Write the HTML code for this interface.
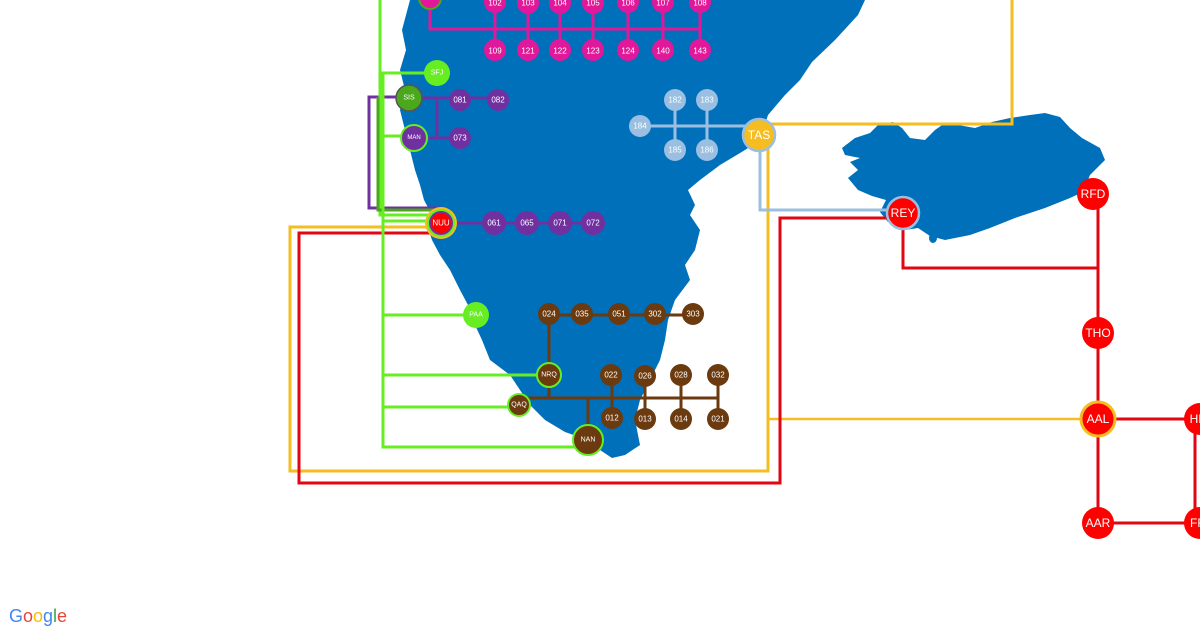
<!DOCTYPE html>
<html><head><meta charset="utf-8"><style>
body{margin:0;background:#fff;width:1200px;height:630px;overflow:hidden;font-family:"Liberation Sans",sans-serif}
svg text{font-family:"Liberation Sans",sans-serif;fill:#fff;text-anchor:middle;dominant-baseline:central}
</style></head><body>
<svg width="1200" height="630" viewBox="0 0 1200 630">
<!-- Greenland -->
<path fill="#0070bb" d="M410,0 L865,0 L858,15 L835,40 L812,62 L800,80 L785,95 L768,115 L760,140 L745,150 L720,165 L700,180 L688,190 L695,205 L690,215 L700,230 L695,250 L685,265 L690,280 L675,300 L668,320 L665,340 L660,360 L650,380 L640,400 L635,420 L640,445 L625,455 L612,458 L600,450 L588,440 L565,432 L545,420 L530,405 L520,390 L510,375 L490,360 L482,340 L475,325 L468,305 L460,290 L450,270 L440,255 L432,240 L428,228 L440,215 L455,200 L463,208 L470,215 L455,220 L445,218 L432,215 L424,200 L420,185 L415,170 L410,150 L405,130 L400,110 L405,90 L400,70 L406,50 L402,30 Z"/>
<!-- Iceland -->
<path fill="#0070bb" d="M842,148 L855,138 L870,133 L878,125 L893,122 L902,128 L910,138 L925,140 L935,130 L945,123 L958,125 L975,128 L992,122 L1010,118 L1030,115 L1045,113 L1060,117 L1070,128 L1082,138 L1100,148 L1105,160 L1090,175 L1083,192 L1070,198 L1045,208 L1015,218 L990,228 L970,235 L945,240 L930,236 L918,228 L905,230 L888,222 L880,212 L886,200 L872,196 L858,190 L848,178 L858,170 L850,162 L860,158 L845,155 Z"/>
<ellipse cx="933" cy="238" rx="4" ry="5" fill="#0070bb"/>
<g fill="none" stroke-width="3">
<!-- yellow -->
<polyline stroke="#f5bd1f" points="1012,0 1012,124 757,124"/>
<polyline stroke="#f5bd1f" points="440,227 290,227 290,471 768,471 768,135"/>
<polyline stroke="#f5bd1f" stroke-width="2.5" points="768,419 1098,419"/>
<!-- red -->
<polyline stroke="#e20613" points="440,233 299,233 299,483 780,483 780,218 903,218"/>
<polyline stroke="#e20613" points="903,213 903,268 1098,268"/>
<path stroke="#e20613" d="M1098,195 V523 H1195 V419 H1098"/>
<!-- light blue -->
<polyline stroke="#9bbfe0" points="760,135 760,210 903,210"/>
<path stroke="#9bbfe0" d="M640,126 H757 M675,100 V150 M707,100 V150"/>
<!-- purple -->
<polyline stroke="#7030a0" points="409,97 369,97 369,208 440,208 440,223"/>
<path stroke="#7030a0" d="M409,98 H500 M437,98 V138 H413 M437,138 H461"/>
<path stroke="#7030a0" d="M440,223 H595"/>
<!-- magenta -->
<path stroke="#e2189a" d="M430,0 V29 H700 M495,0 V50 M528,0 V50 M560,0 V50 M593,0 V50 M628,0 V50 M663,0 V50 M700,0 V50"/>
<!-- green -->
<polyline stroke="#66ee22" points="380,0 380,215 440,215"/>
<polyline stroke="#4aa81a" points="378,97 378,210 440,210"/>
<path stroke="#66ee22" d="M437,73 H383 V447 H588 M383,136 H413 M383,315 H476 M383,375 H549 M383,407 H519 M383,221 H440"/>
<!-- brown -->
<path stroke="#6b3a0e" d="M549,315 H693 M549,315 V398 M519,398 H718 M588,398 V440 M612,375 V418 M645,375 V418 M681,375 V418 M718,375 V418"/>
</g>
<g font-size="8">
<g fill="#e2189a">
<circle cx="430" cy="-2" r="11" stroke="#4aa81a" stroke-width="2"/>
<circle cx="495" cy="2" r="11"/><circle cx="528" cy="3" r="11"/><circle cx="560" cy="3" r="11"/><circle cx="593" cy="3" r="11"/><circle cx="628" cy="2" r="11"/><circle cx="663" cy="2" r="11"/><circle cx="700" cy="2" r="11"/>
<circle cx="495" cy="50" r="11"/><circle cx="528" cy="50" r="11"/><circle cx="560" cy="50" r="11"/><circle cx="593" cy="50" r="11"/><circle cx="628" cy="50" r="11"/><circle cx="663" cy="50" r="11"/><circle cx="700" cy="50" r="11"/>
</g>
<text x="495" y="3">102</text><text x="528" y="3">103</text><text x="560" y="3">104</text><text x="593" y="3">105</text><text x="628" y="3">106</text><text x="663" y="3">107</text><text x="700" y="3">108</text>
<text x="495" y="51">109</text><text x="528" y="51">121</text><text x="560" y="51">122</text><text x="593" y="51">123</text><text x="628" y="51">124</text><text x="663" y="51">140</text><text x="700" y="51">143</text>
<g fill="#9bbfe0"><circle cx="640" cy="126" r="11"/><circle cx="675" cy="100" r="11"/><circle cx="707" cy="100" r="11"/><circle cx="675" cy="150" r="11"/><circle cx="707" cy="150" r="11"/></g>
<text x="640" y="126">184</text><text x="675" y="100">182</text><text x="707" y="100">183</text><text x="675" y="150">185</text><text x="707" y="150">186</text>
<circle cx="759" cy="135" r="16" fill="#f5bd1f" stroke="#9bbfe0" stroke-width="2.5"/><text x="759" y="135" font-size="12">TAS</text>
<g fill="#7030a0"><circle cx="460" cy="100" r="11"/><circle cx="498" cy="100" r="11"/><circle cx="460" cy="138" r="11"/>
<circle cx="494" cy="223" r="12"/><circle cx="527" cy="223" r="12"/><circle cx="560" cy="223" r="12"/><circle cx="593" cy="223" r="12"/></g>
<text x="460" y="100">081</text><text x="498" y="100">082</text><text x="460" y="138">073</text>
<text x="494" y="223">061</text><text x="527" y="223">065</text><text x="560" y="223">071</text><text x="593" y="223">072</text>
<circle cx="437" cy="73" r="13" fill="#66ee22"/><text x="437" y="73" font-size="7">SFJ</text>
<circle cx="409" cy="98" r="13" fill="#4aa81a" stroke="#555" stroke-width="1.5"/><text x="409" y="98" font-size="7">SIS</text>
<circle cx="414" cy="138" r="13" fill="#7030a0" stroke="#66ee22" stroke-width="2"/><text x="414" y="138" font-size="6">MAN</text>
<circle cx="441" cy="223" r="16" fill="#f5bd1f"/><circle cx="441" cy="223" r="14" fill="#66ee22"/><circle cx="441" cy="223" r="12" fill="#7030a0"/><circle cx="441" cy="223" r="10" fill="#ff0000"/><text x="441" y="223" font-size="8">NUU</text>
<circle cx="476" cy="315" r="13" fill="#66ee22"/><text x="476" y="315" font-size="7">PAA</text>
<g fill="#6b3a0e"><circle cx="549" cy="314" r="11"/><circle cx="582" cy="314" r="11"/><circle cx="619" cy="314" r="11"/><circle cx="655" cy="314" r="11"/><circle cx="693" cy="314" r="11"/>
<circle cx="611" cy="375" r="11"/><circle cx="645" cy="376" r="11"/><circle cx="681" cy="375" r="11"/><circle cx="718" cy="375" r="11"/>
<circle cx="612" cy="418" r="11"/><circle cx="645" cy="419" r="11"/><circle cx="681" cy="419" r="11"/><circle cx="718" cy="419" r="11"/></g>
<text x="549" y="314">024</text><text x="582" y="314">035</text><text x="619" y="314">051</text><text x="655" y="314">302</text><text x="693" y="314">303</text>
<text x="611" y="375">022</text><text x="645" y="376">026</text><text x="681" y="375">028</text><text x="718" y="375">032</text>
<text x="612" y="418">012</text><text x="645" y="419">013</text><text x="681" y="419">014</text><text x="718" y="419">021</text>
<circle cx="549" cy="375" r="12" fill="#6b3a0e" stroke="#66ee22" stroke-width="2"/><text x="549" y="375" font-size="7">NRQ</text>
<circle cx="519" cy="405" r="11" fill="#6b3a0e" stroke="#66ee22" stroke-width="2"/><text x="519" y="405" font-size="7">QAQ</text>
<circle cx="588" cy="440" r="15" fill="#6b3a0e" stroke="#66ee22" stroke-width="2"/><text x="588" y="440" font-size="7">NAN</text>
<circle cx="903" cy="213" r="16" fill="#ff0000" stroke="#9bbfe0" stroke-width="2.5"/><text x="903" y="213" font-size="12">REY</text>
<circle cx="1093" cy="194" r="16" fill="#ff0000"/><text x="1093" y="194" font-size="12">RFD</text>
<circle cx="1098" cy="333" r="16" fill="#ff0000"/><text x="1098" y="333" font-size="12">THO</text>
<circle cx="1098" cy="419" r="17" fill="#ff0000" stroke="#f5bd1f" stroke-width="3"/><text x="1098" y="419" font-size="12">AAL</text>
<circle cx="1098" cy="523" r="16" fill="#ff0000"/><text x="1098" y="523" font-size="12">AAR</text>
<circle cx="1200" cy="419" r="16" fill="#ff0000"/><text x="1198" y="419" font-size="12">HE</text>
<circle cx="1200" cy="523" r="16" fill="#ff0000"/><text x="1198" y="523" font-size="12">FR</text>
</g>
<text x="38" y="616" font-size="18" style="fill:#5f6368"><tspan style="fill:#4285f4">G</tspan><tspan style="fill:#ea4335">o</tspan><tspan style="fill:#fbbc05">o</tspan><tspan style="fill:#4285f4">g</tspan><tspan style="fill:#34a853">l</tspan><tspan style="fill:#ea4335">e</tspan></text>
</svg>
</body></html>
